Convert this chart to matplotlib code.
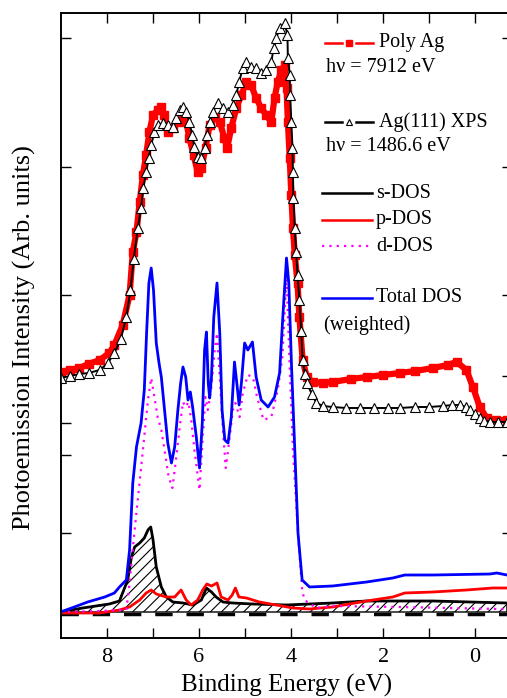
import numpy as np
import matplotlib
matplotlib.use("Agg")
import matplotlib.pyplot as plt
from matplotlib.lines import Line2D

plt.rcParams['font.family'] = ['Liberation Serif', 'DejaVu Serif']
plt.rcParams['hatch.linewidth'] = 0.8

# Poly Ag, hv = 7912 eV (binding energy eV, intensity arb.)
poly_e = [9.01, 8.80, 8.60, 8.40, 8.16, 7.95, 7.84, 7.66, 7.51, 7.44, 7.36, 7.29, 7.22,
          7.15, 7.08, 7.00, 6.90, 6.82, 6.77, 6.68, 6.57, 6.46, 6.35, 6.28, 6.21, 6.12,
          6.03, 5.95, 5.86, 5.77, 5.66, 5.55, 5.45, 5.39, 5.30, 5.19, 5.08, 4.97, 4.87,
          4.76, 4.65, 4.54, 4.43, 4.36, 4.29, 4.21, 4.14, 4.10, 4.07, 4.03, 3.995, 3.96,
          3.92, 3.86, 3.82, 3.75, 3.66, 3.53, 3.30, 3.10, 2.70, 2.36, 2.00, 1.64, 1.30,
          0.92, 0.60, 0.40, 0.19, 0.05, -0.10, -0.25, -0.45, -0.69]
poly_i = [4.84, 4.88, 4.92, 5.00, 5.08, 5.22, 5.38, 5.78, 6.38, 7.24, 7.64, 8.24, 8.78,
          9.18, 9.64, 9.98, 10.08, 10.14, 9.98, 9.64, 9.72, 9.84, 9.98, 9.84, 9.52, 9.18,
          8.84, 8.92, 9.32, 9.78, 9.94, 9.84, 9.52, 9.32, 9.72, 10.12, 10.38, 10.64, 10.58,
          10.32, 10.12, 9.98, 9.84, 10.32, 10.64, 10.88, 10.98, 10.52, 9.84, 9.12, 8.38,
          7.72, 7.18, 6.62, 5.94, 5.08, 4.74, 4.64, 4.62, 4.64, 4.70, 4.74, 4.78, 4.82,
          4.86, 4.92, 4.98, 5.04, 4.88, 4.54, 4.14, 3.92, 3.88, 3.88]

# Ag(111) XPS, hv = 1486.6 eV
xps_e = [9.01, 8.80, 8.60, 8.40, 8.16, 7.98, 7.84, 7.70, 7.58, 7.49, 7.42, 7.33, 7.26,
         7.21, 7.15, 7.09, 7.04, 6.97, 6.90, 6.79, 6.68, 6.57, 6.50, 6.42, 6.35, 6.28,
         6.21, 6.15, 6.10, 6.03, 5.95, 5.88, 5.83, 5.77, 5.70, 5.59, 5.48, 5.37, 5.27,
         5.19, 5.13, 5.05, 4.97, 4.87, 4.76, 4.65, 4.54, 4.43, 4.38, 4.32, 4.25, 4.14,
         4.08, 4.07, 4.03, 4.02, 3.995, 3.97, 3.96, 3.95, 3.92, 3.89, 3.86, 3.82, 3.78,
         3.75, 3.70, 3.66, 3.55, 3.45, 3.30, 3.10, 2.80, 2.50, 2.20, 1.90, 1.64, 1.30,
         1.00, 0.70, 0.50, 0.34, 0.20, 0.12, 0.00, -0.10, -0.20, -0.32, -0.50, -0.69]
xps_i = [4.72, 4.76, 4.80, 4.82, 4.88, 5.02, 5.22, 5.50, 5.94, 6.48, 7.10, 7.72, 8.12,
         8.52, 8.84, 9.12, 9.38, 9.64, 9.78, 9.82, 9.78, 9.74, 9.92, 10.08, 10.14, 10.04,
         9.84, 9.58, 9.34, 9.14, 9.12, 9.32, 9.58, 9.84, 10.04, 10.22, 10.12, 10.04,
         10.18, 10.38, 10.64, 10.92, 11.04, 10.94, 10.92, 10.82, 10.88, 11.04, 11.32,
         11.52, 11.72, 11.82, 11.58, 11.12, 10.78, 10.38, 9.84, 9.32, 8.84, 8.32, 7.72,
         7.24, 6.78, 6.28, 5.66, 5.08, 4.80, 4.62, 4.40, 4.22, 4.16, 4.14, 4.12, 4.12,
         4.12, 4.12, 4.12, 4.14, 4.14, 4.16, 4.18, 4.18, 4.14, 4.08, 4.00, 3.92, 3.87,
         3.84, 3.84, 3.84]

# total DOS (weighted)
tot_e = [9.01, 8.71, 8.42, 8.05, 7.84, 7.73, 7.58, 7.51, 7.44, 7.36, 7.26, 7.19, 7.14,
         7.09, 7.04, 6.99, 6.93, 6.87, 6.82, 6.75, 6.68, 6.60, 6.53, 6.46, 6.40, 6.35,
         6.29, 6.24, 6.19, 6.14, 6.06, 5.99, 5.93, 5.88, 5.84, 5.80, 5.77, 5.73, 5.68,
         5.61, 5.55, 5.50, 5.44, 5.37, 5.30, 5.23, 5.18, 5.13, 5.08, 5.01, 4.94, 4.84,
         4.76, 4.65, 4.50, 4.36, 4.25, 4.18, 4.10, 4.05, 3.99, 3.92, 3.85, 3.76, 3.60,
         3.10, 2.36, 1.79, 1.53, 0.92, -0.32, -0.47, -0.69]
tot_i = [0.04, 0.14, 0.24, 0.34, 0.42, 0.54, 0.68, 1.28, 2.62, 3.34, 3.82, 4.48, 5.62,
         6.62, 6.92, 6.48, 5.42, 5.02, 4.74, 4.08, 3.42, 3.02, 3.34, 4.08, 4.62, 4.94,
         4.74, 4.28, 4.44, 4.14, 3.54, 2.92, 3.82, 5.28, 5.64, 4.62, 4.32, 4.74, 5.94,
         6.62, 5.62, 4.08, 3.48, 3.42, 3.94, 5.04, 4.62, 4.18, 4.62, 5.42, 5.28, 5.44,
         4.74, 4.28, 4.14, 4.34, 4.82, 5.94, 7.12, 6.62, 4.94, 3.28, 1.62, 0.68, 0.54,
         0.56, 0.64, 0.72, 0.78, 0.78, 0.80, 0.82, 0.78]

# d-DOS
d_e = [9.01, 8.16, 7.73, 7.58, 7.51, 7.40, 7.31, 7.22, 7.11, 7.04, 6.97, 6.90, 6.82,
       6.75, 6.66, 6.58, 6.51, 6.42, 6.35, 6.29, 6.23, 6.17, 6.10, 5.99, 5.92, 5.86,
       5.81, 5.74, 5.66, 5.61, 5.55, 5.48, 5.42, 5.35, 5.265, 5.21, 5.12, 5.05, 4.94,
       4.83, 4.74, 4.60, 4.43, 4.29, 4.19, 4.10, 4.03, 3.96, 3.85, 3.76, 3.71, 3.45,
       3.10, 1.64, -0.53, -0.69]
d_i = [0.04, 0.06, 0.08, 0.08, 0.62, 1.68, 2.48, 3.28, 4.28, 4.72, 4.34, 3.94, 3.68,
       3.28, 2.74, 2.52, 3.02, 3.74, 4.24, 4.14, 4.24, 3.88, 3.28, 2.48, 3.54, 4.34,
       4.08, 4.48, 5.28, 5.62, 4.74, 3.68, 2.92, 3.42, 4.08, 4.22, 3.94, 4.42, 4.78,
       4.74, 4.34, 3.88, 3.94, 4.48, 5.14, 6.78, 4.94, 3.28, 1.62, 0.48, 0.28, 0.12,
       0.16, 0.14, 0.10, 0.10]

# p-DOS
p_e = [9.01, 8.16, 7.73, 7.51, 7.29, 7.15, 7.04, 6.93, 6.71, 6.53, 6.39, 6.28, 6.17,
       6.03, 5.92, 5.83, 5.73, 5.61, 5.52, 5.37, 5.28, 5.21, 5.135, 4.97, 4.69, 4.32,
       3.96, 3.60, 3.10, 2.36, 1.79, 1.53, 0.92, 0.19, -0.38, -0.69]
p_i = [0.02, 0.02, 0.08, 0.14, 0.28, 0.42, 0.48, 0.40, 0.34, 0.34, 0.48, 0.28, 0.18,
       0.28, 0.48, 0.60, 0.56, 0.62, 0.34, 0.28, 0.38, 0.52, 0.34, 0.32, 0.24, 0.18,
       0.12, 0.10, 0.14, 0.26, 0.34, 0.42, 0.44, 0.48, 0.52, 0.52]

# s-DOS
s_e = [9.01, 8.53, 7.95, 7.73, 7.55, 7.47, 7.40, 7.29, 7.19, 7.11, 7.05, 7.00, 6.93,
       6.82, 6.71, 6.57, 6.35, 6.135, 5.95, 5.84, 5.73, 5.63, 5.48, 5.27, 4.83, 4.10,
       3.60, 3.10, 2.36, 1.64, 0.92, -0.69]
s_i = [0.04, 0.12, 0.20, 0.26, 0.68, 1.14, 1.34, 1.42, 1.52, 1.68, 1.74, 1.48, 0.94,
       0.54, 0.34, 0.24, 0.22, 0.18, 0.28, 0.52, 0.44, 0.34, 0.24, 0.22, 0.20, 0.18,
       0.20, 0.22, 0.26, 0.26, 0.26, 0.22]

x_ticks = [8, 7, 6, 5, 4, 3, 2, 1, 0]
x_labels = ['8', '', '6', '', '4', '', '2', '', '0']
left_ticks = [11.52, 8.94, 6.38, 3.82, 3.18, 1.62]
right_ticks = [11.52, 8.94, 6.38, 4.76, 3.18, 1.62]

fig = plt.figure(figsize=(5.07, 6.98), dpi=100)
ax = fig.add_axes([61 / 507, 60 / 698, 451 / 507, 625 / 698])

red = '#ff0000'
blue = '#0000ff'
mag = '#ff00ff'

ax.axhline(0, color='black', lw=2.5, dashes=(5, 4), zorder=1)
ax.fill_between(s_e, s_i, 0.04, facecolor='none', hatch='///', edgecolor='black',
                lw=1.0, zorder=2)
ax.plot(s_e, s_i, color='black', lw=2, zorder=3)
ax.plot(p_e, p_i, color=red, lw=2, zorder=3)
ax.plot(d_e, d_i, color=mag, lw=1.6, dashes=(1, 2.3), zorder=3)
ax.plot(tot_e, tot_i, color=blue, lw=2, zorder=4)

ax.plot(poly_e, poly_i, color=red, lw=4.5, marker='s', ms=6, mec=red, mfc=red, zorder=5)
ax.plot(xps_e, xps_i, color='black', lw=1.4, marker='^', ms=7, mfc='white',
        mec='black', mew=0.8, zorder=6)

ax.set_xlim(9.0, -0.8)
ax.set_ylim(-0.48, 12.02)
ax.set_xticks(x_ticks)
ax.set_xticklabels(x_labels)
ax.set_yticks(left_ticks)
ax.tick_params(axis='x', direction='in', top=True, length=7, width=1, labelsize=16, pad=7)
ax.tick_params(axis='y', direction='in', length=7, width=1, labelleft=False)
for sp in ax.spines.values():
    sp.set_linewidth(1.2)

ax2 = ax.twinx()
ax2.set_ylim(ax.get_ylim())
ax2.set_yticks(right_ticks)
ax2.tick_params(axis='y', direction='in', length=7, width=1, labelright=False)
for sp in ax2.spines.values():
    sp.set_linewidth(1.2)

ax.set_xlabel('Binding Energy (eV)', fontsize=18, labelpad=5)
ax.set_ylabel('Photoemission Intensity (Arb. units)', fontsize=19)
ax.yaxis.set_label_coords(-0.055, 0.48)

# hand-made key, as in the original figure
tr = ax.transAxes
fs = 14.5


def key_line(y, x0, x1, **kw):
    ax.add_line(Line2D([x0, x1], [y, y], transform=tr, clip_on=False, **kw))


# Poly Ag
key_line(0.952, 0.585, 0.623, color=red, lw=1.8)
key_line(0.952, 0.655, 0.692, color=red, lw=1.8)
ax.plot([0.639], [0.952], 's', color=red, ms=5, transform=tr)
ax.text(0.705, 0.952, 'Poly Ag', transform=tr, fontsize=fs, va='center')
ax.text(0.588, 0.912, 'hν = 7912 eV', transform=tr, fontsize=fs, va='center')

# Ag(111) XPS
key_line(0.826, 0.585, 0.623, color='black', lw=1.8)
key_line(0.826, 0.655, 0.692, color='black', lw=1.8)
ax.plot([0.639], [0.826], '^', ms=5, mfc='white', mec='black', mew=0.8, transform=tr)
ax.text(0.705, 0.826, 'Ag(111) XPS', transform=tr, fontsize=fs, va='center')
ax.text(0.588, 0.786, 'hν = 1486.6 eV', transform=tr, fontsize=fs, va='center')

# DOS keys
key_line(0.712, 0.579, 0.690, color='black', lw=1.8)
ax.text(0.698, 0.712, 's-DOS', transform=tr, fontsize=fs, va='center')
key_line(0.669, 0.579, 0.690, color=red, lw=1.8)
ax.text(0.698, 0.669, 'p-DOS', transform=tr, fontsize=fs, va='center')
key_line(0.627, 0.579, 0.690, color=mag, lw=1.6, dashes=(1, 2.3))
ax.text(0.698, 0.627, 'd-DOS', transform=tr, fontsize=fs, va='center')
key_line(0.544, 0.579, 0.690, color=blue, lw=1.8)
ax.text(0.698, 0.544, 'Total DOS', transform=tr, fontsize=fs, va='center')
ax.text(0.581, 0.501, '(weighted)', transform=tr, fontsize=fs, va='center')

fig.savefig('out.png', dpi=100)
